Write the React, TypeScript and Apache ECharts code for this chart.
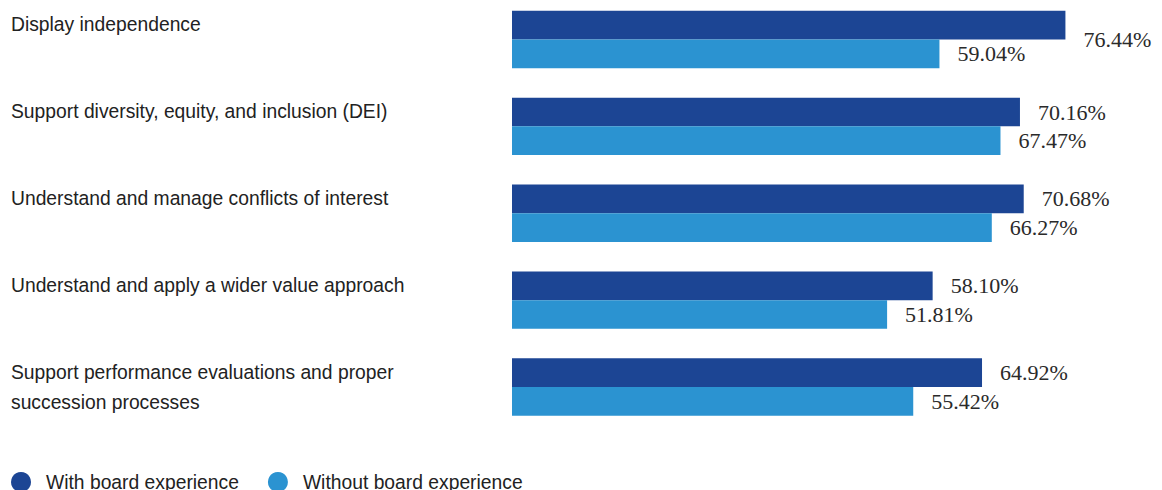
import React, { useEffect, useRef } from "react";
import * as echarts from "echarts";

const categories = [
  "Display independence",
  "Support diversity, equity, and inclusion (DEI)",
  "Understand and manage conflicts of interest",
  "Understand and apply a wider value approach",
  "Support performance evaluations and proper\nsuccession processes",
];
const withBoard = [76.44, 70.16, 70.68, 58.1, 64.92];
const withoutBoard = [59.04, 67.47, 66.27, 51.81, 55.42];
const seriesNames = ["With board experience", "Without board experience"];
const colors = ["#1c4594", "#2b93d1"];

export default function App() {
  const ref = useRef<HTMLDivElement>(null);
  useEffect(() => {
    if (!ref.current) return;
    const chart = echarts.init(ref.current, null, { renderer: "svg" });
    const valueLabel = {
      show: true,
      position: "right",
      distance: 18,
      fontFamily: "'Liberation Serif', 'Times New Roman', serif",
      fontSize: 22,
      color: "#2a2a2a",
      formatter: (p: any) => Number(p.value).toFixed(2) + "%",
    };
    chart.setOption({
      animation: false,
      backgroundColor: "#ffffff",
      grid: {
        left: 512,
        top: -4,
        width: 579.2,
        height: 434.5,
        containLabel: false,
        outerBoundsMode: "none",
      },
      xAxis: { type: "value", min: 0, max: 80, show: false },
      yAxis: {
        type: "category",
        inverse: true,
        data: categories,
        axisLine: { show: false },
        axisTick: { show: false },
        splitLine: { show: false },
        axisLabel: {
          align: "left",
          margin: 501,
          fontFamily: "'Liberation Sans', Arial, sans-serif",
          fontSize: 19.3,
          lineHeight: 30,
          color: "#222222",
          formatter: (v: string) => (v.includes("\n") ? v : v + "\n "),
        },
      },
      legend: {
        left: 6,
        top: 467,
        icon: "circle",
        itemWidth: 20,
        itemHeight: 20,
        itemGap: 29,
        textStyle: {
          fontFamily: "'Liberation Sans', Arial, sans-serif",
          fontSize: 19.3,
          color: "#222222",
          padding: [0, 0, 0, 10],
        },
        data: seriesNames,
      },
      series: [
        {
          name: seriesNames[0],
          type: "bar",
          barGap: "0%",
          barCategoryGap: "34%",
          itemStyle: { color: colors[0] },
          label: valueLabel,
          data: withBoard.map((v, i) =>
            i === 0 ? { value: v, label: { offset: [0, 14] } } : v
          ),
        },
        {
          name: seriesNames[1],
          type: "bar",
          barGap: "0%",
          barCategoryGap: "34%",
          itemStyle: { color: colors[1] },
          label: valueLabel,
          data: withoutBoard,
        },
      ],
    });
    return () => chart.dispose();
  }, []);
  return (
    <div
      ref={ref}
      style={{ position: "fixed", left: 0, top: 0, width: 1162, height: 490 }}
    />
  );
}
